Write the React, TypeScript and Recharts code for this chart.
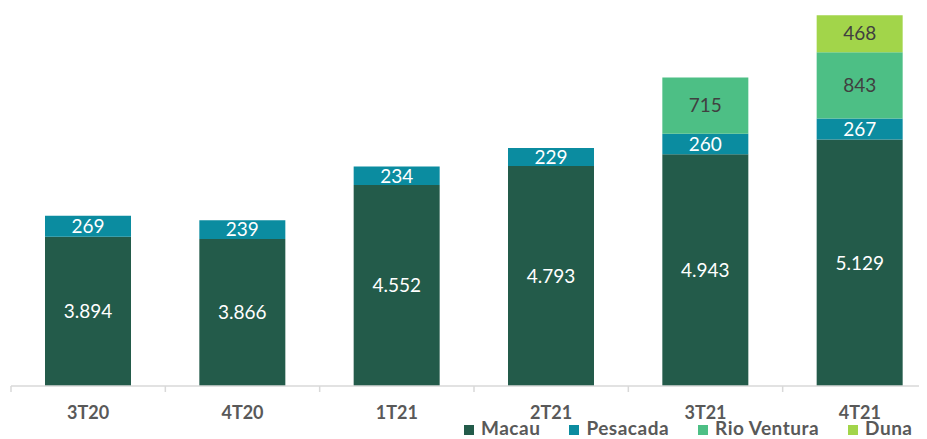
import React from 'react';
import { BarChart, Bar, XAxis, YAxis, LabelList } from 'recharts';

const categories = ['3T20', '4T20', '1T21', '2T21', '3T21', '4T21'];
const macau = [3894, 3866, 4552, 4793, 4943, 5129];
const pesacada = [269, 239, 234, 229, 260, 267];
const rioVentura: (number | null)[] = [null, null, null, null, 715, 843];
const duna: (number | null)[] = [null, null, null, null, null, 468];

const seriesNames = ['Macau', 'Pesacada', 'Rio Ventura', 'Duna'];
const colors = ['#235B4A', '#0B8CA0', '#4DBF85', '#A2D54A'];
const labelColors = ['#FFFFFF', '#FFFFFF', '#404040', '#404040'];

const data = categories.map((c, i) => ({
  name: c,
  macau: macau[i],
  pesacada: pesacada[i],
  rioVentura: rioVentura[i],
  duna: duna[i],
}));

const keys = ['macau', 'pesacada', 'rioVentura', 'duna'];

const fmt = (v: any) => {
  if (v === null || v === undefined) return '';
  const s = String(Math.round(v));
  return s.replace(/\B(?=(\d{3})+(?!\d))/g, '.');
};

const FONT = 'Lato, "Open Sans", sans-serif';
const BW = 926 / 6;

const Tick = (props: any) => {
  const { x, y, payload } = props;
  return (
    <g>
      <line x1={x - BW / 2} x2={x - BW / 2} y1={y} y2={y + 6} stroke="#D9D9D9" strokeWidth={1.5} />
      <text x={x} y={y + 25.5} textAnchor="middle" dominantBaseline="central" fill="#595959"
        fontFamily={FONT} fontWeight={700} fontSize={18}>
        {payload.value}
      </text>
    </g>
  );
};

export default function App() {
  return (
    <div style={{ position: 'relative', width: 919, height: 431, overflow: 'hidden' }}>
      <div style={{ position: 'absolute', left: -8, top: -8 }}>
        <BarChart width={945} height={439} data={data}
          margin={{ top: 8, right: 8, bottom: 0, left: 11 }} barSize={86}>
          <XAxis dataKey="name" height={53} axisLine={{ stroke: '#D9D9D9', strokeWidth: 1.5 }}
            tickLine={false} tickSize={0} tickMargin={0} tick={<Tick />} interval={0} />
          <YAxis hide domain={[2000, 6800]} allowDataOverflow type="number" />
          {keys.map((k, i) => (
            <Bar key={k} dataKey={k} stackId="a" fill={colors[i]} isAnimationActive={false}>
              <LabelList dataKey={k} position="center" formatter={fmt} fill={labelColors[i]}
                style={{ fontFamily: FONT, fontSize: 19 }} />
            </Bar>
          ))}
        </BarChart>
        <div style={{ position: 'absolute', left: 464, top: 418, height: 19, display: 'flex', alignItems: 'center',
          fontFamily: FONT, fontWeight: 700, fontSize: 19, lineHeight: '19px', letterSpacing: '0.5px',
          color: '#595959', whiteSpace: 'nowrap' }}>
          {seriesNames.map((n, i) => (
            <div key={n} style={{ display: 'flex', alignItems: 'center', marginRight: 29 }}>
              <div style={{ width: 10, height: 10, background: colors[i], marginRight: 7, marginTop: 4 }} />
              <span>{n}</span>
            </div>
          ))}
        </div>
      </div>
    </div>
  );
}
